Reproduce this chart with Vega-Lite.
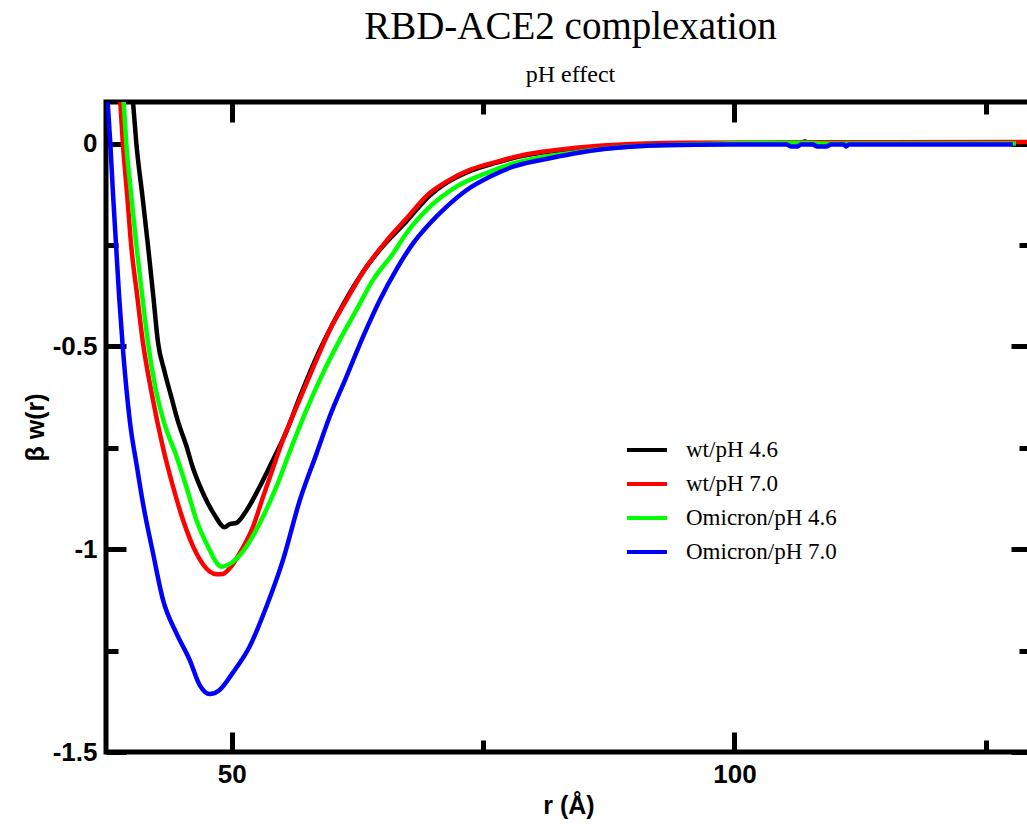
{
  "$schema": "https://vega.github.io/schema/vega-lite/v6.json",
  "autosize": {"type": "none"},
  "padding": {"left": 106, "top": 102, "right": -4, "bottom": 78},
  "width": 925,
  "height": 650,
  "background": "white",
  "title": {
    "text": "RBD-ACE2 complexation",
    "subtitle": "pH effect",
    "anchor": "middle",
    "font": "Liberation Serif",
    "fontSize": 39,
    "fontWeight": "normal",
    "color": "black",
    "subtitleFont": "Liberation Serif",
    "subtitleFontSize": 24,
    "subtitleColor": "black",
    "subtitlePadding": 16,
    "offset": 13,
    "dx": 2
  },
  "config": {
    "view": {"stroke": "black", "strokeWidth": 5},
    "axis": {
      "labelFont": "Liberation Sans",
      "labelFontSize": 26,
      "labelFontWeight": "bold",
      "labelColor": "black",
      "titleFont": "Liberation Sans",
      "titleFontSize": 25,
      "titleFontWeight": "bold",
      "titleColor": "black",
      "domain": false,
      "grid": false,
      "tickColor": "black",
      "tickWidth": 5
    }
  },
  "data": {
    "values": [
      {"s": "wt/pH 4.6", "r": 39.8, "w": 0.23},
      {"s": "wt/pH 4.6", "r": 40.18, "w": 0.105},
      {"s": "wt/pH 4.6", "r": 40.52, "w": 0},
      {"s": "wt/pH 4.6", "r": 41.1, "w": -0.125},
      {"s": "wt/pH 4.6", "r": 41.67, "w": -0.25},
      {"s": "wt/pH 4.6", "r": 42.2, "w": -0.375},
      {"s": "wt/pH 4.6", "r": 42.67, "w": -0.49},
      {"s": "wt/pH 4.6", "r": 43.3, "w": -0.56},
      {"s": "wt/pH 4.6", "r": 44.0, "w": -0.625},
      {"s": "wt/pH 4.6", "r": 44.66, "w": -0.685},
      {"s": "wt/pH 4.6", "r": 45.49, "w": -0.745},
      {"s": "wt/pH 4.6", "r": 46.15, "w": -0.8},
      {"s": "wt/pH 4.6", "r": 47.15, "w": -0.862},
      {"s": "wt/pH 4.6", "r": 48.31, "w": -0.916},
      {"s": "wt/pH 4.6", "r": 49.3, "w": -0.946},
      {"s": "wt/pH 4.6", "r": 49.8, "w": -0.938},
      {"s": "wt/pH 4.6", "r": 50.47, "w": -0.935},
      {"s": "wt/pH 4.6", "r": 51.46, "w": -0.905},
      {"s": "wt/pH 4.6", "r": 52.79, "w": -0.846},
      {"s": "wt/pH 4.6", "r": 54.11, "w": -0.78},
      {"s": "wt/pH 4.6", "r": 55.44, "w": -0.71},
      {"s": "wt/pH 4.6", "r": 56.77, "w": -0.625},
      {"s": "wt/pH 4.6", "r": 58.76, "w": -0.509},
      {"s": "wt/pH 4.6", "r": 60.42, "w": -0.427},
      {"s": "wt/pH 4.6", "r": 62.74, "w": -0.328},
      {"s": "wt/pH 4.6", "r": 64.73, "w": -0.262},
      {"s": "wt/pH 4.6", "r": 67.38, "w": -0.192},
      {"s": "wt/pH 4.6", "r": 69.7, "w": -0.128},
      {"s": "wt/pH 4.6", "r": 71.36, "w": -0.097},
      {"s": "wt/pH 4.6", "r": 73.68, "w": -0.068},
      {"s": "wt/pH 4.6", "r": 76.34, "w": -0.047},
      {"s": "wt/pH 4.6", "r": 78.99, "w": -0.03},
      {"s": "wt/pH 4.6", "r": 82.3, "w": -0.018},
      {"s": "wt/pH 4.6", "r": 86.29, "w": -0.008},
      {"s": "wt/pH 4.6", "r": 91.26, "w": -0.002},
      {"s": "wt/pH 4.6", "r": 95, "w": 0},
      {"s": "wt/pH 4.6", "r": 106.5, "w": 0},
      {"s": "wt/pH 4.6", "r": 107, "w": 0.005},
      {"s": "wt/pH 4.6", "r": 107.5, "w": 0},
      {"s": "wt/pH 4.6", "r": 120, "w": 0},
      {"s": "wt/pH 4.6", "r": 129.5, "w": 0},
      {"s": "wt/pH 7.0", "r": 38.6, "w": 0.23},
      {"s": "wt/pH 7.0", "r": 38.92, "w": 0.105},
      {"s": "wt/pH 7.0", "r": 39.18, "w": 0},
      {"s": "wt/pH 7.0", "r": 39.6, "w": -0.125},
      {"s": "wt/pH 7.0", "r": 40.0, "w": -0.25},
      {"s": "wt/pH 7.0", "r": 40.6, "w": -0.375},
      {"s": "wt/pH 7.0", "r": 41.17, "w": -0.49},
      {"s": "wt/pH 7.0", "r": 42.0, "w": -0.61},
      {"s": "wt/pH 7.0", "r": 43.17, "w": -0.75},
      {"s": "wt/pH 7.0", "r": 44.17, "w": -0.846},
      {"s": "wt/pH 7.0", "r": 45.16, "w": -0.928},
      {"s": "wt/pH 7.0", "r": 46.49, "w": -1.01},
      {"s": "wt/pH 7.0", "r": 47.81, "w": -1.055},
      {"s": "wt/pH 7.0", "r": 48.5, "w": -1.062},
      {"s": "wt/pH 7.0", "r": 49.13, "w": -1.061},
      {"s": "wt/pH 7.0", "r": 49.8, "w": -1.047},
      {"s": "wt/pH 7.0", "r": 50.8, "w": -1.01},
      {"s": "wt/pH 7.0", "r": 52.12, "w": -0.945},
      {"s": "wt/pH 7.0", "r": 53.12, "w": -0.871},
      {"s": "wt/pH 7.0", "r": 54.11, "w": -0.8},
      {"s": "wt/pH 7.0", "r": 55.1, "w": -0.73},
      {"s": "wt/pH 7.0", "r": 56.44, "w": -0.65},
      {"s": "wt/pH 7.0", "r": 58.09, "w": -0.553},
      {"s": "wt/pH 7.0", "r": 59.75, "w": -0.46},
      {"s": "wt/pH 7.0", "r": 61.41, "w": -0.386},
      {"s": "wt/pH 7.0", "r": 63.4, "w": -0.304},
      {"s": "wt/pH 7.0", "r": 65.39, "w": -0.24},
      {"s": "wt/pH 7.0", "r": 67.38, "w": -0.185},
      {"s": "wt/pH 7.0", "r": 69.7, "w": -0.122},
      {"s": "wt/pH 7.0", "r": 71.36, "w": -0.094},
      {"s": "wt/pH 7.0", "r": 73.68, "w": -0.065},
      {"s": "wt/pH 7.0", "r": 76.34, "w": -0.045},
      {"s": "wt/pH 7.0", "r": 78.99, "w": -0.028},
      {"s": "wt/pH 7.0", "r": 82.3, "w": -0.016},
      {"s": "wt/pH 7.0", "r": 86.29, "w": -0.006},
      {"s": "wt/pH 7.0", "r": 91.26, "w": 0},
      {"s": "wt/pH 7.0", "r": 95, "w": 0.002},
      {"s": "wt/pH 7.0", "r": 105, "w": 0.003},
      {"s": "wt/pH 7.0", "r": 115, "w": 0.003},
      {"s": "wt/pH 7.0", "r": 129.5, "w": 0.004},
      {"s": "Omicron/pH 4.6", "r": 38.9, "w": 0.25},
      {"s": "Omicron/pH 4.6", "r": 39.25, "w": 0.105},
      {"s": "Omicron/pH 4.6", "r": 39.52, "w": 0},
      {"s": "Omicron/pH 4.6", "r": 40.0, "w": -0.125},
      {"s": "Omicron/pH 4.6", "r": 40.52, "w": -0.25},
      {"s": "Omicron/pH 4.6", "r": 41.1, "w": -0.375},
      {"s": "Omicron/pH 4.6", "r": 41.67, "w": -0.49},
      {"s": "Omicron/pH 4.6", "r": 42.4, "w": -0.6},
      {"s": "Omicron/pH 4.6", "r": 43.3, "w": -0.69},
      {"s": "Omicron/pH 4.6", "r": 44.5, "w": -0.77},
      {"s": "Omicron/pH 4.6", "r": 45.49, "w": -0.846},
      {"s": "Omicron/pH 4.6", "r": 46.49, "w": -0.928},
      {"s": "Omicron/pH 4.6", "r": 47.81, "w": -1.002},
      {"s": "Omicron/pH 4.6", "r": 48.4, "w": -1.03},
      {"s": "Omicron/pH 4.6", "r": 48.97, "w": -1.043},
      {"s": "Omicron/pH 4.6", "r": 50.13, "w": -1.031},
      {"s": "Omicron/pH 4.6", "r": 51.46, "w": -0.994},
      {"s": "Omicron/pH 4.6", "r": 52.79, "w": -0.936},
      {"s": "Omicron/pH 4.6", "r": 54.45, "w": -0.846},
      {"s": "Omicron/pH 4.6", "r": 55.77, "w": -0.76},
      {"s": "Omicron/pH 4.6", "r": 57.43, "w": -0.657},
      {"s": "Omicron/pH 4.6", "r": 59.08, "w": -0.566},
      {"s": "Omicron/pH 4.6", "r": 60.75, "w": -0.484},
      {"s": "Omicron/pH 4.6", "r": 62.41, "w": -0.41},
      {"s": "Omicron/pH 4.6", "r": 64.06, "w": -0.336},
      {"s": "Omicron/pH 4.6", "r": 66.05, "w": -0.271},
      {"s": "Omicron/pH 4.6", "r": 67.38, "w": -0.221},
      {"s": "Omicron/pH 4.6", "r": 69.7, "w": -0.156},
      {"s": "Omicron/pH 4.6", "r": 72.36, "w": -0.106},
      {"s": "Omicron/pH 4.6", "r": 75.34, "w": -0.073},
      {"s": "Omicron/pH 4.6", "r": 77.99, "w": -0.049},
      {"s": "Omicron/pH 4.6", "r": 81.3, "w": -0.032},
      {"s": "Omicron/pH 4.6", "r": 84.63, "w": -0.02},
      {"s": "Omicron/pH 4.6", "r": 88.6, "w": -0.009},
      {"s": "Omicron/pH 4.6", "r": 92.9, "w": -0.004},
      {"s": "Omicron/pH 4.6", "r": 97, "w": -0.001},
      {"s": "Omicron/pH 4.6", "r": 103, "w": 0.002},
      {"s": "Omicron/pH 4.6", "r": 106, "w": 0.002},
      {"s": "Omicron/pH 4.6", "r": 110, "w": 0},
      {"s": "Omicron/pH 4.6", "r": 128, "w": 0},
      {"s": "Omicron/pH 7.0", "r": 37.5, "w": 0.17},
      {"s": "Omicron/pH 7.0", "r": 37.66, "w": 0.105},
      {"s": "Omicron/pH 7.0", "r": 37.93, "w": 0},
      {"s": "Omicron/pH 7.0", "r": 38.2, "w": -0.125},
      {"s": "Omicron/pH 7.0", "r": 38.5, "w": -0.25},
      {"s": "Omicron/pH 7.0", "r": 38.8, "w": -0.375},
      {"s": "Omicron/pH 7.0", "r": 39.15, "w": -0.496},
      {"s": "Omicron/pH 7.0", "r": 39.85, "w": -0.68},
      {"s": "Omicron/pH 7.0", "r": 40.6, "w": -0.8},
      {"s": "Omicron/pH 7.0", "r": 41.17, "w": -0.886},
      {"s": "Omicron/pH 7.0", "r": 42.17, "w": -1.009},
      {"s": "Omicron/pH 7.0", "r": 43.17, "w": -1.125},
      {"s": "Omicron/pH 7.0", "r": 44.5, "w": -1.207},
      {"s": "Omicron/pH 7.0", "r": 45.82, "w": -1.273},
      {"s": "Omicron/pH 7.0", "r": 46.82, "w": -1.335},
      {"s": "Omicron/pH 7.0", "r": 47.81, "w": -1.357},
      {"s": "Omicron/pH 7.0", "r": 48.8, "w": -1.347},
      {"s": "Omicron/pH 7.0", "r": 50.1, "w": -1.305},
      {"s": "Omicron/pH 7.0", "r": 51.79, "w": -1.24},
      {"s": "Omicron/pH 7.0", "r": 53.45, "w": -1.142},
      {"s": "Omicron/pH 7.0", "r": 55.1, "w": -1.027},
      {"s": "Omicron/pH 7.0", "r": 56.77, "w": -0.88},
      {"s": "Omicron/pH 7.0", "r": 58.43, "w": -0.765},
      {"s": "Omicron/pH 7.0", "r": 59.75, "w": -0.673},
      {"s": "Omicron/pH 7.0", "r": 61.41, "w": -0.575},
      {"s": "Omicron/pH 7.0", "r": 63.07, "w": -0.476},
      {"s": "Omicron/pH 7.0", "r": 64.73, "w": -0.386},
      {"s": "Omicron/pH 7.0", "r": 66.39, "w": -0.31},
      {"s": "Omicron/pH 7.0", "r": 68.04, "w": -0.246},
      {"s": "Omicron/pH 7.0", "r": 69.7, "w": -0.197},
      {"s": "Omicron/pH 7.0", "r": 71.36, "w": -0.156},
      {"s": "Omicron/pH 7.0", "r": 73.35, "w": -0.115},
      {"s": "Omicron/pH 7.0", "r": 75.67, "w": -0.082},
      {"s": "Omicron/pH 7.0", "r": 77.99, "w": -0.057},
      {"s": "Omicron/pH 7.0", "r": 80.65, "w": -0.041},
      {"s": "Omicron/pH 7.0", "r": 83.3, "w": -0.028},
      {"s": "Omicron/pH 7.0", "r": 86.29, "w": -0.016},
      {"s": "Omicron/pH 7.0", "r": 89.6, "w": -0.008},
      {"s": "Omicron/pH 7.0", "r": 92.9, "w": -0.004},
      {"s": "Omicron/pH 7.0", "r": 99.6, "w": -0.002},
      {"s": "Omicron/pH 7.0", "r": 105.2, "w": -0.002},
      {"s": "Omicron/pH 7.0", "r": 105.6, "w": -0.007},
      {"s": "Omicron/pH 7.0", "r": 106.3, "w": -0.007},
      {"s": "Omicron/pH 7.0", "r": 106.6, "w": -0.002},
      {"s": "Omicron/pH 7.0", "r": 107.8, "w": -0.002},
      {"s": "Omicron/pH 7.0", "r": 108.2, "w": -0.007},
      {"s": "Omicron/pH 7.0", "r": 109.2, "w": -0.007},
      {"s": "Omicron/pH 7.0", "r": 109.6, "w": -0.002},
      {"s": "Omicron/pH 7.0", "r": 110.9, "w": -0.002},
      {"s": "Omicron/pH 7.0", "r": 111.1, "w": -0.007},
      {"s": "Omicron/pH 7.0", "r": 111.4, "w": -0.002},
      {"s": "Omicron/pH 7.0", "r": 120, "w": -0.002},
      {"s": "Omicron/pH 7.0", "r": 127.7, "w": -0.002}
    ]
  },
  "layer": [
    {
      "mark": {"type": "line", "strokeWidth": 4.5, "clip": true, "interpolate": "monotone"},
      "encoding": {
        "x": {
          "field": "r", "type": "quantitative",
          "scale": {"domain": [37.5, 129.5], "nice": false, "zero": false},
          "axis": {
            "orient": "bottom",
            "values": [50, 100],
            "labelExpr": "'' + datum.value",
            "ticks": false,
            "title": "r (Å)",
            "titlePadding": 6,
            "labelPadding": 9
          }
        },
        "y": {
          "field": "w", "type": "quantitative",
          "scale": {"domain": [-1.5, 0.1025], "nice": false, "zero": false},
          "axis": {
            "orient": "left",
            "values": [0, -0.5, -1, -1.5],
            "labelExpr": "'' + datum.value",
            "ticks": false,
            "title": "β w(r)",
            "titlePadding": 4,
            "labelPadding": 9
          }
        },
        "color": {
          "field": "s", "type": "nominal",
          "scale": {
            "domain": ["wt/pH 4.6", "wt/pH 7.0", "Omicron/pH 4.6", "Omicron/pH 7.0"],
            "range": ["#000000", "#ff0000", "#00ff00", "#0000ff"]
          },
          "legend": {
            "orient": "none",
            "legendX": 519,
            "legendY": 326,
            "title": null,
            "padding": 0,
            "symbolType": "stroke",
            "symbolStrokeWidth": 4,
            "symbolSize": 1600,
            "labelFont": "Liberation Serif",
            "labelFontSize": 23,
            "labelColor": "black",
            "labelLimit": 400,
            "labelOffset": 17,
            "rowPadding": -7
          }
        }
      }
    },
    {
      "mark": {"type": "line", "strokeOpacity": 0, "clip": true},
      "encoding": {
        "x": {
          "field": "r", "type": "quantitative",
          "axis": {"orient": "bottom", "values": [50, 100], "labels": false, "title": null, "tickSize": 20, "offset": -20}
        },
        "y": {
          "field": "w", "type": "quantitative",
          "axis": {"orient": "left", "values": [0, -0.5, -1, -1.5], "labels": false, "title": null, "tickSize": 20, "offset": -20}
        }
      }
    },
    {
      "mark": {"type": "line", "strokeOpacity": 0, "clip": true},
      "encoding": {
        "x": {
          "field": "r", "type": "quantitative",
          "axis": {"orient": "bottom", "values": [75, 125], "labels": false, "title": null, "tickSize": 12, "offset": -12}
        },
        "y": {
          "field": "w", "type": "quantitative",
          "axis": {"orient": "left", "values": [-0.25, -0.75, -1.25], "labels": false, "title": null, "tickSize": 12, "offset": -12}
        }
      }
    },
    {
      "mark": {"type": "line", "strokeOpacity": 0, "clip": true},
      "encoding": {
        "x": {
          "field": "r", "type": "quantitative",
          "axis": {"orient": "top", "values": [50, 100], "labels": false, "title": null, "tickSize": -20}
        },
        "y": {
          "field": "w", "type": "quantitative",
          "axis": {"orient": "right", "values": [0, -0.5, -1, -1.5], "labels": false, "title": null, "tickSize": -20}
        }
      }
    },
    {
      "mark": {"type": "line", "strokeOpacity": 0, "clip": true},
      "encoding": {
        "x": {
          "field": "r", "type": "quantitative",
          "axis": {"orient": "top", "values": [75, 125], "labels": false, "title": null, "tickSize": -12}
        },
        "y": {
          "field": "w", "type": "quantitative",
          "axis": {"orient": "right", "values": [-0.25, -0.75, -1.25], "labels": false, "title": null, "tickSize": -12}
        }
      }
    }
  ],
  "resolve": {"axis": {"x": "independent", "y": "independent"}}
}
